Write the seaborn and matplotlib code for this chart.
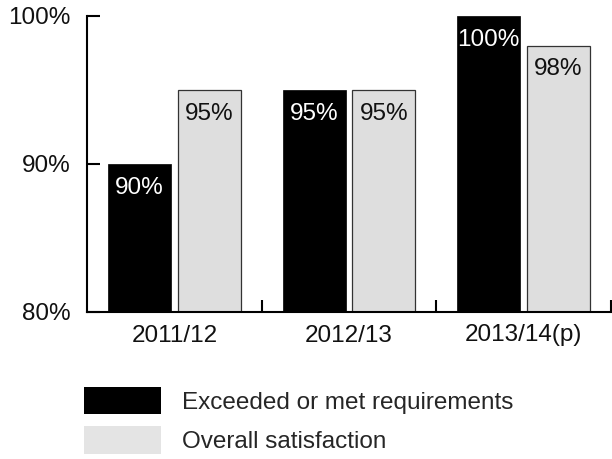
import matplotlib
matplotlib.use("Agg")
import matplotlib.pyplot as plt
from matplotlib.patches import Patch
from matplotlib.ticker import FixedLocator
import seaborn as sns
import pandas as pd

years = ["2011/12", "2012/13", "2013/14(p)"]
series_names = ["Exceeded or met requirements", "Overall satisfaction"]
exceeded = [90, 95, 100]
satisfaction = [95, 95, 98]
y_ticks = [80, 90, 100]
y_tick_labels = ["80%", "90%", "100%"]

colors = ["#000000", "#dedede"]
text_colors = ["white", "#111111"]

df = pd.DataFrame({
    "year": years * 2,
    "series": [series_names[0]] * 3 + [series_names[1]] * 3,
    "value": exceeded + satisfaction,
})

sns.set_style("white")
plt.rcParams["font.family"] = ["Liberation Sans", "DejaVu Sans"]
FS = 17.5

fig = plt.figure(figsize=(6.12, 4.59), dpi=100)
ax = fig.add_axes([87 / 612, 1 - 312 / 459, (611 - 87) / 612, (312 - 16) / 459])

sns.barplot(data=df, x="year", y="value", hue="series", order=years,
            hue_order=series_names, palette=colors, width=0.8, gap=0.1,
            saturation=1, legend=False, ax=ax)

values = [exceeded, satisfaction]
for ci, cont in enumerate(ax.containers):
    for bar, v in zip(cont, values[ci]):
        if ci == 0:
            bar.set_edgecolor("#000000")
            bar.set_linewidth(0.5)
        else:
            bar.set_edgecolor("#333333")
            bar.set_linewidth(0.9)
        x = bar.get_x() + bar.get_width() / 2
        top = bar.get_y() + bar.get_height()
        ax.annotate(f"{v}%", (x, top), xytext=(0, -17), textcoords="offset points",
                    ha="center", va="center", color=text_colors[ci], fontsize=FS)

ax.set_ylim(80, 100)
ax.set_xlim(-0.5, 2.5)
ax.set_yticks(y_ticks)
ax.set_yticklabels(y_tick_labels)
ax.set_xlabel("")
ax.set_ylabel("")

ax.xaxis.set_minor_locator(FixedLocator([0.5, 1.5, 2.5]))
ax.tick_params(axis="x", which="both", bottom=True)
ax.tick_params(axis="y", which="both", left=True)
ax.tick_params(axis="x", which="major", length=0, pad=9, labelsize=FS, colors="#111111")
ax.tick_params(axis="x", which="minor", direction="in", length=9, width=1.5, color="black")
ax.tick_params(axis="y", which="major", direction="in", length=9, width=1.5,
               pad=12, labelsize=FS, color="black", labelcolor="#111111")

for s in ["top", "right"]:
    ax.spines[s].set_visible(False)
for s in ["left", "bottom"]:
    ax.spines[s].set_linewidth(1.5)
    ax.spines[s].set_color("black")

handles = [Patch(facecolor=colors[0], edgecolor="none"),
           Patch(facecolor="#e4e4e4", edgecolor="none")]
fig.legend(handles, series_names, loc="upper left",
           bbox_to_anchor=(84 / 612, 1 - 387 / 459), frameon=False,
           fontsize=FS, handlelength=3.15, handleheight=1.35, handletextpad=0.9,
           labelspacing=0.5, borderpad=0, borderaxespad=0)

fig.savefig("out.png", dpi=100)
